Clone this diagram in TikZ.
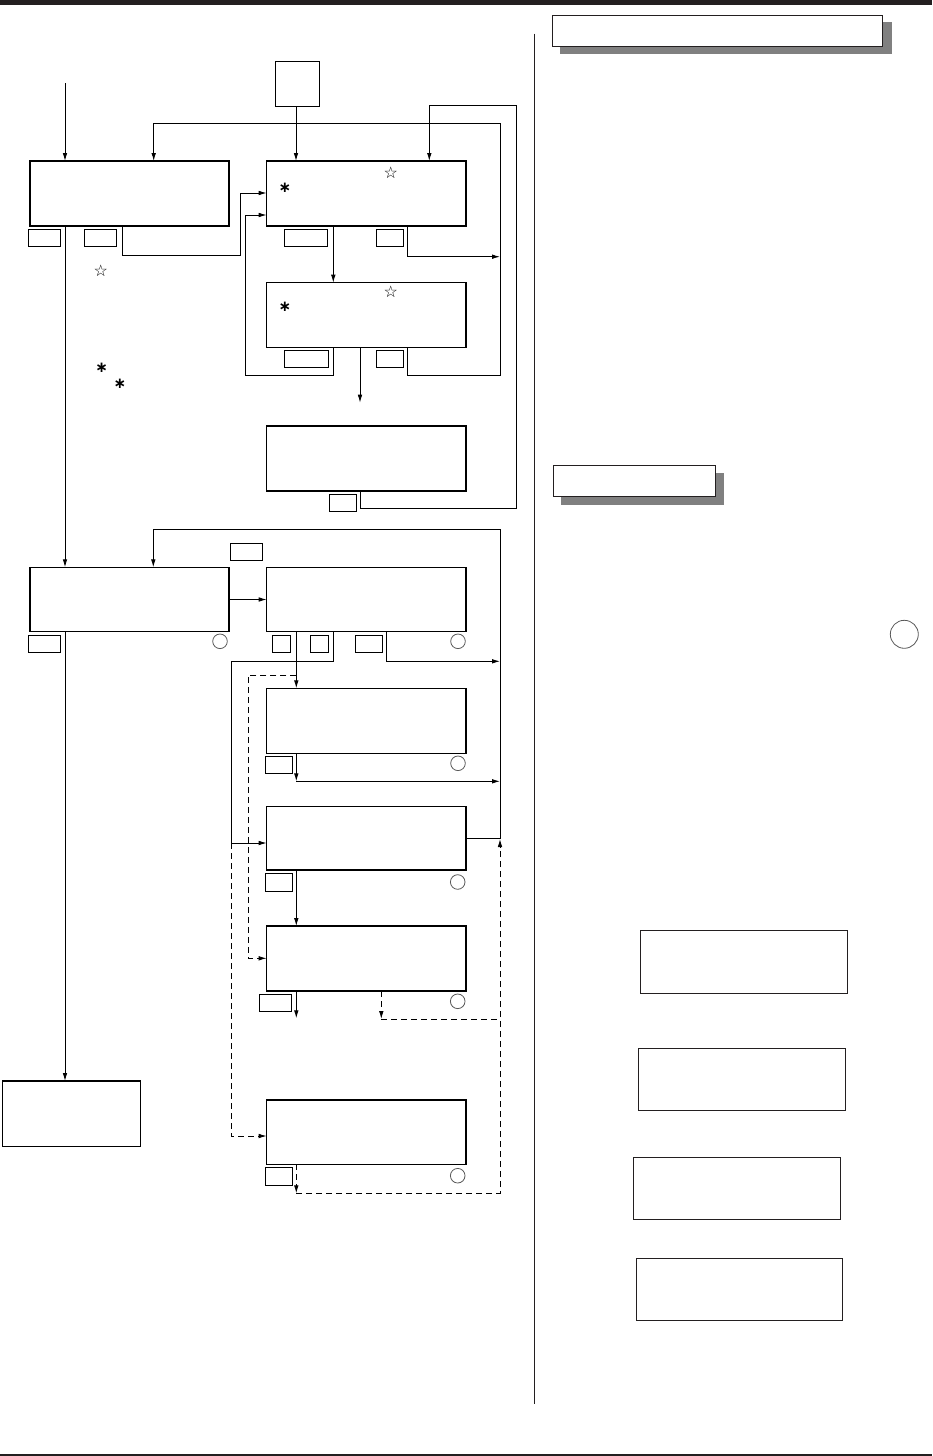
\documentclass[tikz,border=0pt]{standalone}
\usepackage{fontspec}
\newfontfamily\djv{DejaVu Sans}
\usetikzlibrary{arrows.meta,fit,calc}
\definecolor{ink}{HTML}{231F20}
\definecolor{shade}{HTML}{808080}
\tikzset{
  scr/.style={draw=black, line width=1.3pt, fill=white, inner sep=0pt, outer sep=0pt},
  thinbox/.style={draw=ink, line width=1pt, fill=white, inner sep=0pt, outer sep=0pt},
  keybox/.style={draw=black, line width=0.9pt, inner sep=0pt, outer sep=0pt},
  led/.style={circle, draw=black!65, line width=0.8pt, minimum size=14.6pt, inner sep=0pt},
  ln/.style={line width=0.9pt},
  arr/.style={ln, -{Latex[length=8pt,width=4.6pt]}},
  dsh/.style={dash pattern=on 6pt off 4pt},
  sym/.style={inner sep=0pt, font=\djv\fontsize{16pt}{16pt}\selectfont},
  ast/.style={inner sep=0pt, font=\djv\bfseries\fontsize{15pt}{15pt}\selectfont},
  bar/.style={fill=ink, draw=none},
  shadowbox/.style={fill=shade, draw=none}
}
\begin{document}
\begin{tikzpicture}[x=1pt,y=-1pt]
\useasboundingbox (0,0) rectangle (932,1456);
% page bars and divider
\fill[bar] (0,0) rectangle (932,4.7);
\fill[bar] (0,1453.6) rectangle (932,1456);
\draw[line width=1pt, draw=ink] (534.7,33.7) -- (534.7,1404);

% main boxes
\node[scr, fit={(30,161) (229,226)}] (A) {};
\node[scr, line width=1.5pt, fit={(275.7,61.7) (319.3,106.3)}] (T) {};
\node[scr, fit={(266.7,161) (466,226)}] (B) {};
\node[scr, fit={(266.7,282.7) (466,347.3)}] (C) {};
\node[scr, fit={(266.7,426) (466,491)}] (D) {};
\node[scr, fit={(30,567.3) (229,631.7)}] (E) {};
\node[scr, fit={(266.7,567.3) (466,631.7)}] (F) {};
\node[scr, fit={(266.7,688.3) (466,753.3)}] (H) {};
\node[scr, fit={(266.7,806.3) (466,870)}] (J) {};
\node[scr, fit={(266.7,926) (466,991)}] (K) {};
\node[scr, fit={(266.7,1100) (466,1164.3)}] (L) {};
\node[scr, fit={(2.7,1081) (140.3,1146.3)}] (G) {};

% key boxes
\node[keybox, fit={(28,229.3) (60,246.3)}] (kA1) {};
\node[keybox, fit={(84.3,229.3) (116.7,246.3)}] (kA2) {};
\node[keybox, fit={(284.3,229.3) (327.3,246.3)}] (kB1) {};
\node[keybox, fit={(376.3,229.3) (403.3,246.3)}] (kB2) {};
\node[keybox, fit={(284.3,350.3) (328.3,367.3)}] (kC1) {};
\node[keybox, fit={(376.3,350.3) (403.3,367.3)}] (kC2) {};
\node[keybox, fit={(329.3,494.3) (356.7,511)}] (kD) {};
\node[keybox, fit={(230.3,543.3) (262.3,560.3)}] (kT) {};
\node[keybox, fit={(28,635.3) (60,652.3)}] (kE) {};
\node[keybox, fit={(272.3,635.3) (290.7,652.3)}] (kF1) {};
\node[keybox, fit={(310.3,635.3) (328.7,652.3)}] (kF2) {};
\node[keybox, fit={(355.7,635.3) (382.7,652.3)}] (kF3) {};
\node[keybox, fit={(265.7,756.7) (292.3,773.3)}] (kH) {};
\node[keybox, fit={(265.7,873.7) (292,891.3)}] (kJ) {};
\node[keybox, fit={(259.3,994.3) (291.3,1011)}] (kK) {};
\node[keybox, fit={(265.7,1167.3) (292,1185)}] (kL) {};

% indicator circles
\node[led] (cE) at (220,641.3) {};
\node[led] (cF) at (458,641.3) {};
\node[led] (cH) at (458,763.3) {};
\node[led] (cJ) at (457.7,882) {};
\node[led] (cK) at (457.7,1001.3) {};
\node[led] (cL) at (457.7,1175.7) {};
\node[led, minimum size=28pt] (cR) at (904.3,634.3) {};

% stars and asterisks
\node[sym] (st1) at (390.7,172.5) {☆};
\node[sym] (st2) at (390.7,292) {☆};
\node[sym] (st3) at (100.7,271) {☆};
\node[ast] (as1) at (285,188) {∗};
\node[ast] (as2) at (285,307) {∗};
\node[ast] (as3) at (101.7,367.5) {∗};
\node[ast] (as4) at (120,383.5) {∗};

% right column
\fill[shadowbox] (560,22) rectangle (892,53.7);
\node[thinbox, fit={(552.3,15.3) (882.7,46.3)}] (R1) {};
\fill[shadowbox] (561,472.7) rectangle (724,505);
\node[thinbox, fit={(553.3,465.3) (715.3,496.3)}] (R2) {};
\node[thinbox, fit={(640.3,930.3) (847.7,993.3)}] (P1) {};
\node[thinbox, fit={(638.3,1048) (845.3,1110)}] (P2) {};
\node[thinbox, fit={(633.3,1157) (840.7,1219)}] (P3) {};
\node[thinbox, fit={(636.3,1258.3) (842.7,1320.3)}] (P4) {};

% helper coordinates
\coordinate (bus) at (500,0);
\coordinate (busB) at (516.7,0);
\coordinate (in) at (65,83);
\coordinate (cEnd) at (360,402.7);
\coordinate (hJ) at (296.3,781.3);
\coordinate (kEnd) at (296.3,1018.3);
\coordinate (kDs) at (381.3,1019);
\coordinate (lEnd) at (296.3,1193.3);
\coordinate (fDs) at (296.3,675.3);
\coordinate (fTurn) at (231.3,661.3);
\coordinate (jBr) at (231.3,843);

% upper connectors
\draw[arr] (in) -- (in |- A.north);
\draw[arr] (T.south -| 296,0) -- (B.north -| 296,0);
\draw[arr] (A.south -| 122,0) |- (240,255) |- (B.west |- 0,193);
\draw[arr] (C.south -| 333.3,0) |- (245.7,375) |- (B.west |- 0,215);
\draw[arr] (B.south -| 333.3,0) -- (C.north -| 333.3,0);
\draw[arr] (B.south -| 407.3,0) |- (bus |- 0,256.7);
\draw[arr] (C.south -| 407.3,0) |- (bus |- 0,375) -- (bus |- 0,123) -| (A.north -| 153.7,0);
\draw[arr] (C.south -| 360,0) -- (cEnd);
\draw[arr] (D.south -| 360.7,0) |- (busB |- 0,508) -- (busB |- 0,105.7) -| (B.north -| 429.3,0);

% lower connectors
\draw[arr] (A.south -| 65,0) -- (E.north -| 65,0);
\draw[arr] (E.south -| 65,0) -- (G.north -| 65,0);
\draw[arr] (E.east) -- (F.west);
\draw[arr] (J.east |- 0,838.3) -- (bus |- 0,838.3) -- (bus |- 0,529) -| (E.north -| 153.3,0);
\draw[arr] (F.south -| 386.7,0) |- (bus |- 0,661.3);
\draw[arr] (F.south -| 296.3,0) -- (H.north -| 296.3,0);
\draw[arr] (F.south -| 333.3,0) |- (fTurn) -- (jBr) -- (J.west |- jBr);
\draw[arr,dsh] (jBr) |- (L.west |- 0,1136);
\draw[arr,dsh] (fDs) -| (248.3,958.3) -- (K.west |- 0,958.3);
\draw[arr] (H.south -| 296.3,0) -- (hJ);
\draw[arr] (hJ) -- (bus |- hJ);
\draw[arr] (J.south -| 296.3,0) -- (K.north -| 296.3,0);
\draw[arr] (K.south -| 296.3,0) -- (kEnd);
\draw[arr,dsh] (K.south -| 381.3,0) -- (kDs);
\draw[ln,dsh] (kDs) -- (bus |- kDs);
\draw[arr,dsh] (L.south -| 296.3,0) -- (lEnd);
\draw[arr,dsh] (lEnd) -- (bus |- lEnd) -- (bus |- 0,839);
\end{tikzpicture}
\end{document}
